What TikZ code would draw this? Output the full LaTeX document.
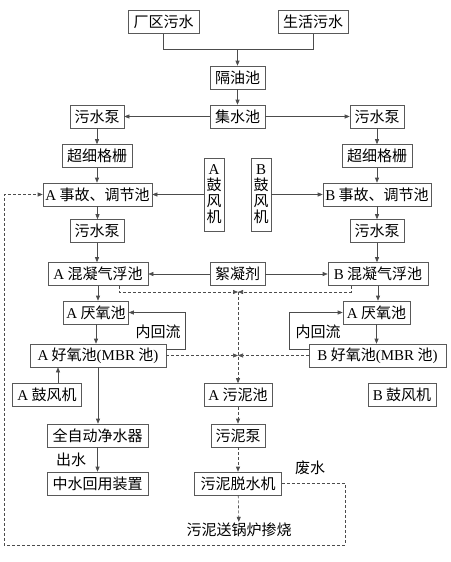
\documentclass[tikz,border=0pt]{standalone}
\usepackage{fontspec}
\setmainfont{Liberation Serif}
\newfontfamily\cjk{Noto Sans CJK SC}
\usetikzlibrary{arrows.meta, positioning}
\newcommand{\lat}[1]{{\rmfamily #1}}

\begin{document}
\begin{tikzpicture}[x=1pt, y=-1pt,
    font=\cjk\fontsize{15}{18}\selectfont,
    box/.style={draw=black!65, line width=0.6pt, minimum height=23pt, inner sep=1pt},
    vbox/.style={box, minimum width=20pt, minimum height=73pt, inner sep=0pt, align=center,
                 font=\cjk\fontsize{15}{16}\selectfont},
    line/.style={draw=black!70, line width=0.6pt},
    flow/.style={line, -{Triangle[length=5pt,width=4pt]}},
    sludge/.style={flow, dash pattern=on 3pt off 2pt}]
    \useasboundingbox (0,0) rectangle (450,562);

    % Sources and pretreatment
    \node[box, minimum width=71pt] (cq) at (163.5,22) {厂区污水};
    \node[box, minimum width=70pt] (sh) at (313,22) {生活污水};
    \node[box, minimum width=55pt] (gyc) at (237.5,77.5) {隔油池};
    \node[box, minimum width=55pt] (jsc) at (237.5,116.5) {集水池};
    \node[box, minimum width=54pt] (pumpA) at (97,116.5) {污水泵};
    \node[box, minimum width=54pt] (pumpB) at (377,116.5) {污水泵};
    \node[box, minimum width=70pt] (gridA) at (97,156) {超细格栅};
    \node[box, minimum width=70pt] (gridB) at (377,156) {超细格栅};
    \node[box, minimum width=109pt] (tjA) at (97.5,194.5) {\lat{A} 事故、调节池};
    \node[box, minimum width=108pt] (tjB) at (377,194.5) {\lat{B} 事故、调节池};
    \node[vbox] (fanA) at (214,194.5) {\lat{A}\\鼓\\风\\机};
    \node[vbox] (fanB) at (261,194.5) {\lat{B}\\鼓\\风\\机};
    \node[box, minimum width=54pt] (pumpA2) at (97,231) {污水泵};
    \node[box, minimum width=54pt] (pumpB2) at (377,231) {污水泵};

    % Flotation and biological tanks
    \node[box, minimum width=100pt] (hnA) at (98,274) {\lat{A} 混凝气浮池};
    \node[box, minimum width=55pt] (xnj) at (237.5,274) {絮凝剂};
    \node[box, minimum width=100pt] (hnB) at (378,274) {\lat{B} 混凝气浮池};
    \node[box, minimum width=65pt] (yyA) at (96,312.5) {\lat{A} 厌氧池};
    \node[box, minimum width=67pt] (yyB) at (376.5,312.5) {\lat{A} 厌氧池};
    \node[box, minimum width=136pt] (hyA) at (98,355.5) {\lat{A} 好氧池\lat{(MBR} 池\lat{)}};
    \node[box, minimum width=137pt] (hyB) at (377.5,355.5) {\lat{B} 好氧池\lat{(MBR} 池\lat{)}};
    \node (hlA) at (158,332) {内回流};
    \node (hlB) at (318,332) {内回流};

    % Outlet and sludge line
    \node[box, minimum width=69pt] (blowA) at (47,395) {\lat{A} 鼓风机};
    \node[box, minimum width=68pt] (wnc) at (238,395) {\lat{A} 污泥池};
    \node[box, minimum width=68pt] (blowB) at (402,395) {\lat{B} 鼓风机};
    \node[box, minimum width=101pt] (jsq) at (97.5,435.5) {全自动净水器};
    \node[box, minimum width=101pt] (zshy) at (97.5,483.5) {中水回用装置};
    \node[box, minimum width=54pt] (wnb) at (238,435.5) {污泥泵};
    \node[box, minimum width=87pt] (tsj) at (238,483.5) {污泥脱水机};
    \node[inner sep=1pt] (gl) at (239,530) {污泥送锅炉掺烧};
    \node (cs) at (71,460) {出水};
    \node (fs) at (310,468) {废水};

    \coordinate (merge) at (237.5,49.5);
    \coordinate (mixJ) at (238,292);
    \coordinate (aerJ) at (238,355.5);

    % Main water flow
    \draw[line] (cq.south) |- (merge) -| (sh.south);
    \draw[flow] (merge) -- (gyc);
    \draw[flow] (gyc) -- (jsc);
    \draw[flow] (jsc) -- (pumpA);
    \draw[flow] (jsc) -- (pumpB);
    \foreach \a/\b in {pumpA/gridA, gridA/tjA, tjA/pumpA2, pumpA2/hnA, hnA/yyA, yyA/hyA, hyA/jsq, jsq/zshy,
                       pumpB/gridB, gridB/tjB, tjB/pumpB2, pumpB2/hnB, hnB/yyB, yyB/hyB} {
        \draw[flow] (\a.south) -- (\a.south |- \b.north);
    }
    \draw[flow] (fanA) -- (tjA);
    \draw[flow] (fanB) -- (tjB);
    \draw[flow] (xnj) -- (hnA);
    \draw[flow] (xnj) -- (hnB);
    \draw[flow] ([xshift=11pt]blowA.north) -- ([xshift=11pt]blowA.north |- hyA.south);

    % Internal reflux
    \draw[flow] ([yshift=6.5pt]hyA.east) -| (185,312.5) -- (yyA.east);
    \draw[flow] ([yshift=6.5pt]hyB.west) -| (289,312.5) -- (yyB.west);

    % Sludge (dashed)
    \draw[sludge] ([xshift=21pt]hnA.south) |- (mixJ);
    \draw[sludge] ([xshift=-27pt]hnB.south) |- (mixJ);
    \draw[sludge] (hyA) -- (aerJ);
    \draw[sludge] (hyB) -- (aerJ);
    \draw[sludge] (mixJ) -- (wnc);
    \draw[sludge] (wnc) -- (wnb);
    \draw[sludge] (wnb) -- (tsj);
    \draw[sludge] (tsj) -- (gl);
    \draw[sludge] (tsj.east) -| (345,545) -| (4,194.5) -- (tjA.west);
\end{tikzpicture}
\end{document}
